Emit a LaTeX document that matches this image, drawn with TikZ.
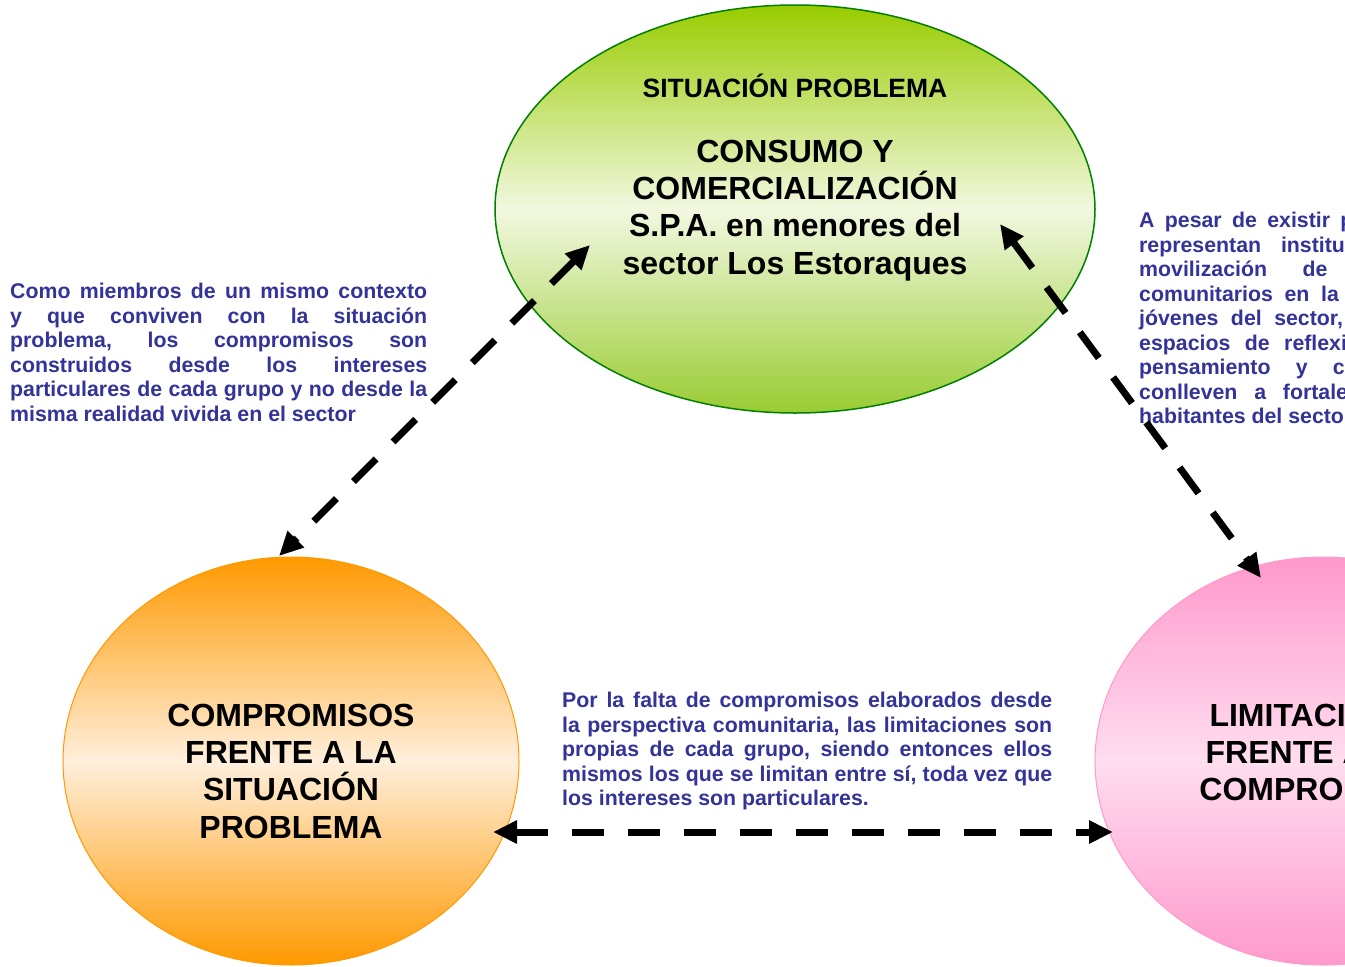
\documentclass[tikz,border=0pt]{standalone}
\usepackage{fontspec}
\setmainfont{Liberation Sans}
\usetikzlibrary{shapes.geometric,arrows.meta}
\definecolor{txtblue}{HTML}{333399}
\definecolor{gtop}{HTML}{99CC00}
\definecolor{gmid}{HTML}{F2F8E0}
\definecolor{gbot}{HTML}{99CC33}
\definecolor{gline}{HTML}{008000}
\definecolor{otop}{HTML}{FF9900}
\definecolor{omid}{HTML}{FFEFDC}
\definecolor{ptop}{HTML}{FF99CC}
\definecolor{pmid}{HTML}{FFDDEF}
\newcommand{\jl}[2]{\makebox[#1][s]{#2}}
\frenchspacing
\tikzset{
  bubble/.style={ellipse, inner sep=0pt, minimum width=456pt, minimum height=408pt},
  bigtxt/.style={font=\fontsize{32}{37.2}\selectfont\bfseries, align=center, inner sep=0pt, text=black},
  bluetxt/.style={font=\fontsize{21.3}{24.5}\selectfont\bfseries, align=left, inner sep=0pt, text=txtblue},
  conn/.style={line width=7pt, dash pattern=on 32pt off 24pt,
    {Triangle[length=24pt,width=22pt]}-{Triangle[length=24pt,width=22pt]}}
}
\begin{document}
\begin{tikzpicture}[x=1pt,y=-1pt]
\useasboundingbox (0,0) rectangle (1345,967);
\fill[white] (0,0) rectangle (1345,967);
\clip (0,0) rectangle (1345,967);
% ellipses
\node[bubble, minimum width=600pt, draw=gline, line width=1.5pt,
  top color=gtop, bottom color=gbot, middle color=gmid] (sit) at (795,209) {};
\node[bubble, draw=otop, line width=1pt,
  top color=otop, bottom color=otop, middle color=omid] (comp) at (291,761) {};
\node[bubble, draw=ptop, line width=1pt,
  top color=ptop, bottom color=ptop, middle color=pmid] (lim) at (1323,761) {};
% texts inside
\node[font=\fontsize{26.5}{30}\selectfont\bfseries, inner sep=0pt, anchor=base] (sittitle) at (795,97) {SITUACIÓN PROBLEMA};
\node[bigtxt, anchor=north] (sittext) at (795,140) {CONSUMO Y\\COMERCIALIZACIÓN\\S.P.A. en menores del\\sector Los Estoraques};
\node[bigtxt, anchor=north] (comptext) at (291,704) {COMPROMISOS\\FRENTE A LA\\SITUACIÓN\\PROBLEMA};
\node[bigtxt, anchor=north] (limtext) at (1323,704) {LIMITACIONES\\FRENTE A LOS\\COMPROMISOS};
% explanatory texts
\node[bluetxt, anchor=north west] (lefttext) at (10,283) {%
\jl{417pt}{Como miembros de un mismo contexto}\\
\jl{417pt}{y que conviven con la situación}\\
\jl{417pt}{problema, los compromisos son}\\
\jl{417pt}{construidos desde los intereses}\\
\jl{417pt}{particulares de cada grupo y no desde la}\\
misma realidad vivida en el sector};
\node[bluetxt, anchor=north west] (bottomtext) at (562,692) {%
\jl{490pt}{Por la falta de compromisos elaborados desde}\\
\jl{490pt}{la perspectiva comunitaria, las limitaciones son}\\
\jl{490pt}{propias de cada grupo, siendo entonces ellos}\\
\jl{490pt}{mismos los que se limitan entre sí, toda vez que}\\
los intereses son particulares.};
\node[bluetxt, anchor=north west] (righttext) at (1139,212) {%
\jl{417pt}{A pesar de existir programas que a su}\\
\jl{417pt}{representan instituciones en pro de}\\
\jl{417pt}{movilización de varios procesos}\\
\jl{417pt}{comunitarios en la población infantil y}\\
\jl{417pt}{jóvenes del sector, no se generan los}\\
\jl{417pt}{espacios de reflexión, de análisis, de}\\
\jl{417pt}{pensamiento y cambio social que}\\
\jl{417pt}{conlleven a fortalecer la paz de los}\\
habitantes del sector.};
% connector ends
\coordinate (sitL) at (590,245);
\coordinate (compT) at (279,556);
\coordinate (sitR) at (1000,224);
\coordinate (limT) at (1261,578);
\coordinate (compR) at (493,832);
\coordinate (limL) at (1113,832);
\draw[conn] (sitL) -- (compT);
\draw[conn] (sitR) -- (limT);
\draw[conn] (compR) -- (limL);
\end{tikzpicture}
\end{document}
